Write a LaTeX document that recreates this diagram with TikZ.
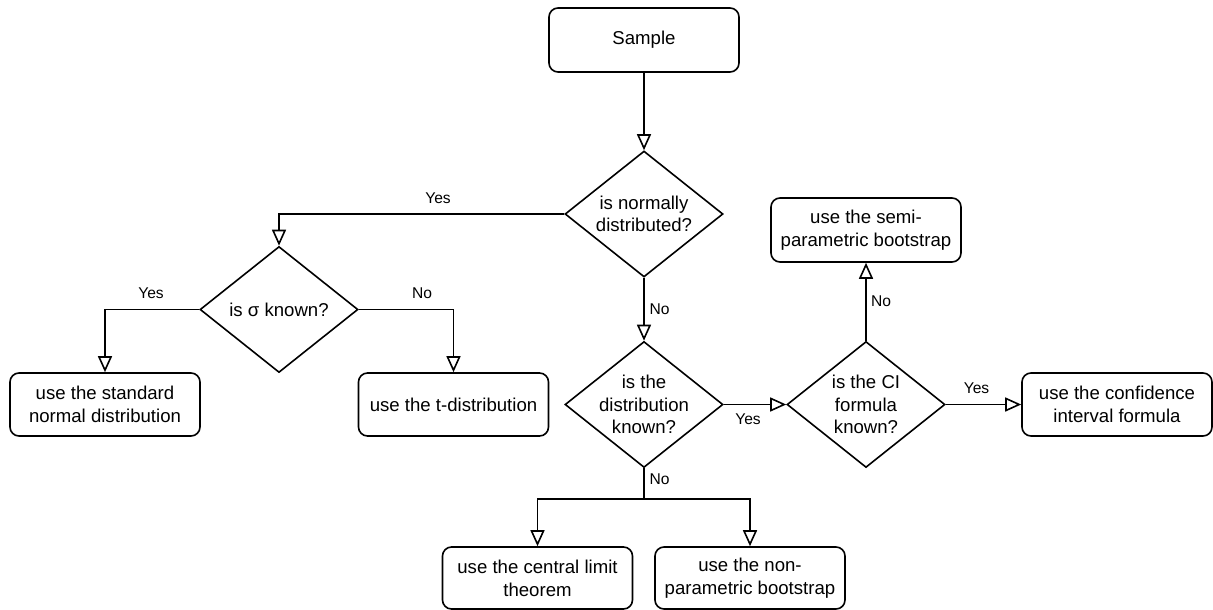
\documentclass[tikz,border=0pt]{standalone}
\usepackage{fontspec}
\setmainfont{Liberation Sans}
\usetikzlibrary{arrows.meta,shapes.geometric}
\begin{document}
\begin{tikzpicture}[x=1pt,y=-1pt,line width=1.6pt,
  stepbox/.style={draw, rounded corners=9pt, minimum width=190pt, minimum height=63pt,
    inner sep=0pt, align=center, font=\fontsize{18.6}{23}\selectfont},
  decision/.style={draw, diamond, minimum width=158pt, minimum height=126pt, inner sep=0pt},
  qtext/.style={align=center, inner sep=0pt, font=\fontsize{18.6}{22.5}\selectfont},
  lbl/.style={inner sep=0pt, font=\fontsize{15.6}{18}\selectfont},
  arr/.style={-{Triangle[open, length=16pt, width=14pt]}}]
\useasboundingbox (0,0) rectangle (1213,610);

% boxes
\node[stepbox, minimum height=64pt] (sample) at (644,40) {Sample};
\node[stepbox] (std)    at (105,404.5)  {use the standard\\normal distribution};
\node[stepbox] (tdist)  at (453.5,404.5) {use the t-distribution};
\node[stepbox, minimum height=64pt] (semi) at (866,230) {use the semi-\\parametric bootstrap};
\node[stepbox] (ci)     at (1117,404.5) {use the confidence\\interval formula};
\node[stepbox, minimum height=62pt] (clt)    at (537.5,578) {use the central limit\\theorem};
\node[stepbox, minimum height=62pt] (nonpar) at (750,578)   {use the non-\\parametric bootstrap};

% decisions
\node[decision] (d1) at (644,214) {};
\node[qtext] (d1t) at (d1) {is normally\\distributed?};
\node[decision] (d2) at (279,309.5) {};
\node[qtext] (d2t) at (d2) {is σ known?};
\node[decision] (d3) at (644,404.5) {};
\node[qtext] (d3t) at (d3) {is the\\distribution\\known?};
\node[decision] (d4) at (866,404.5) {};
\node[qtext] (d4t) at (d4) {is the CI\\formula\\known?};

% connectors
\coordinate (split) at (644,499);
\draw[arr] (sample.south) -- (d1.north);
\draw[arr] (d1.west) -| (d2.north);
\draw[arr] (d2.west) -| (std.north);
\draw[arr] (d2.east) -| (tdist.north);
\draw[arr] (d1.south) -- (d3.north);
\draw[arr] (d3.east) -- (d4.west);
\draw[arr] (d4.north) -- (semi.south);
\draw[arr] (d4.east) -- (ci.west);
\draw[arr] (d3.south) -- (split) -| (clt.north);
\draw[arr] (split) -| (nonpar.north);

% connector labels
\node[lbl] (y1) at (438,198)   {Yes};
\node[lbl] (y2) at (151,293)   {Yes};
\node[lbl] (n2) at (422,293)   {No};
\node[lbl] (n1) at (659.5,309) {No};
\node[lbl] (y3) at (748,419)   {Yes};
\node[lbl] (n4) at (881,301)   {No};
\node[lbl] (y4) at (976.5,388) {Yes};
\node[lbl] (n3) at (659.5,479) {No};
\end{tikzpicture}
\end{document}
